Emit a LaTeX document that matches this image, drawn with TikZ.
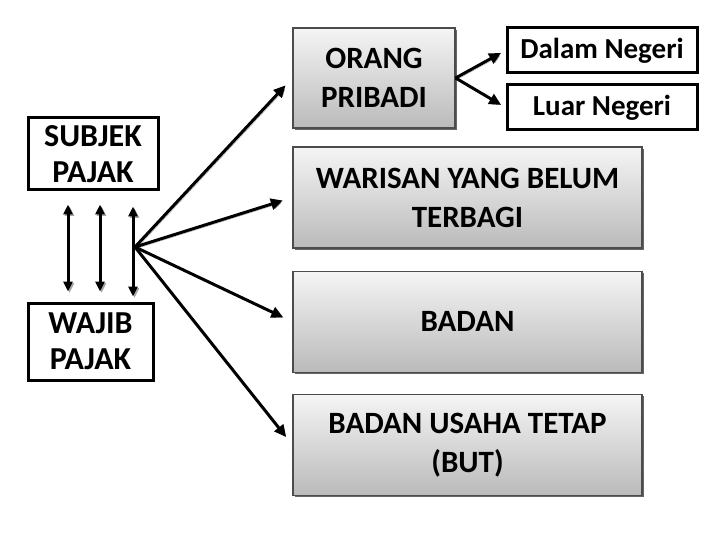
\documentclass[tikz,border=0pt]{standalone}
\usepackage{fontspec}
\setmainfont{Carlito}
\usetikzlibrary{arrows.meta,positioning,shadows,calc}
\tikzset{
  pj/label/.style={draw, line width=3pt, fill=white, align=center, inner sep=0pt, font=\bfseries\fontsize{32}{36}\selectfont},
  pj/box/.style={draw=black!70, line width=1.2pt, top color=black!4, bottom color=black!27, align=center, inner sep=0pt,
    minimum width=349pt, minimum height=101pt, font=\bfseries\fontsize{31}{39}\selectfont,
    drop shadow={shadow xshift=2pt, shadow yshift=-2pt, fill=black!60, opacity=1}},
  pj/place/.style={draw, line width=3pt, fill=white, inner sep=0pt, minimum width=190pt, minimum height=45pt,
    font=\bfseries\fontsize{29}{32}\selectfont},
  pj/arrow/.style={line width=3pt, -{Triangle[length=12pt,width=11pt]}, shorten >=10pt,
    preaction={draw=black!35, transform canvas={shift={(1.5pt,-1.5pt)}}}},
  pj/both/.style={line width=3pt, {Triangle[length=10pt,width=9pt]}-{Triangle[length=10pt,width=9pt]},
    preaction={draw=black!35, transform canvas={shift={(1.5pt,-1.5pt)}}}}
}

\begin{document}
\begin{tikzpicture}[x=1pt, y=-1pt]
  \useasboundingbox (0,0) rectangle (720,540);

  % left side
  \node[pj/label, minimum width=130pt, minimum height=72pt] (subjek) at (93,154) {SUBJEK\\PAJAK};
  \node[pj/label, minimum width=125pt, minimum height=77pt] (wajib) at (90.5,341.5) {WAJIB\\PAJAK};

  \draw[pj/both, shorten <=13pt, shorten >=10pt] ([xshift=-25pt]subjek.south) -- ([xshift=-22.5pt]wajib.north);
  \draw[pj/both, shorten <=13pt, shorten >=10pt] ([xshift=7pt]subjek.south) -- ([xshift=9.5pt]wajib.north);
  \draw[pj/both, shorten <=15pt, shorten >=5pt] ([xshift=40pt]subjek.south) -- ([xshift=42.5pt]wajib.north);

  % kinds of subjek pajak
  \node[pj/box, minimum width=162pt, minimum height=100pt] (orang) at (374,78) {ORANG\\PRIBADI};
  \node[pj/box] (warisan) at (467.5,197.5) {WARISAN YANG BELUM\\TERBAGI};
  \node[pj/box, below=22pt of warisan] (badan) {BADAN};
  \node[pj/box, below=21pt of badan] (but) {BADAN USAHA TETAP\\(BUT)};

  \node[pj/place] (dalam) at (602,50.5) {Dalam Negeri};
  \node[pj/place] (luar) at (602,107.5) {Luar Negeri};

  \coordinate (hub) at (135,247);
  \draw[pj/arrow] (hub) -- (orang.west);
  \draw[pj/arrow] (hub) -- (warisan.west);
  \draw[pj/arrow] (hub) -- (badan.west);
  \draw[pj/arrow] (hub) -- (but.west);

  \draw[pj/arrow, shorten >=5pt] (orang.east) -- (dalam.west);
  \draw[pj/arrow, shorten >=5pt] (orang.east) -- (luar.west);
\end{tikzpicture}
\end{document}
